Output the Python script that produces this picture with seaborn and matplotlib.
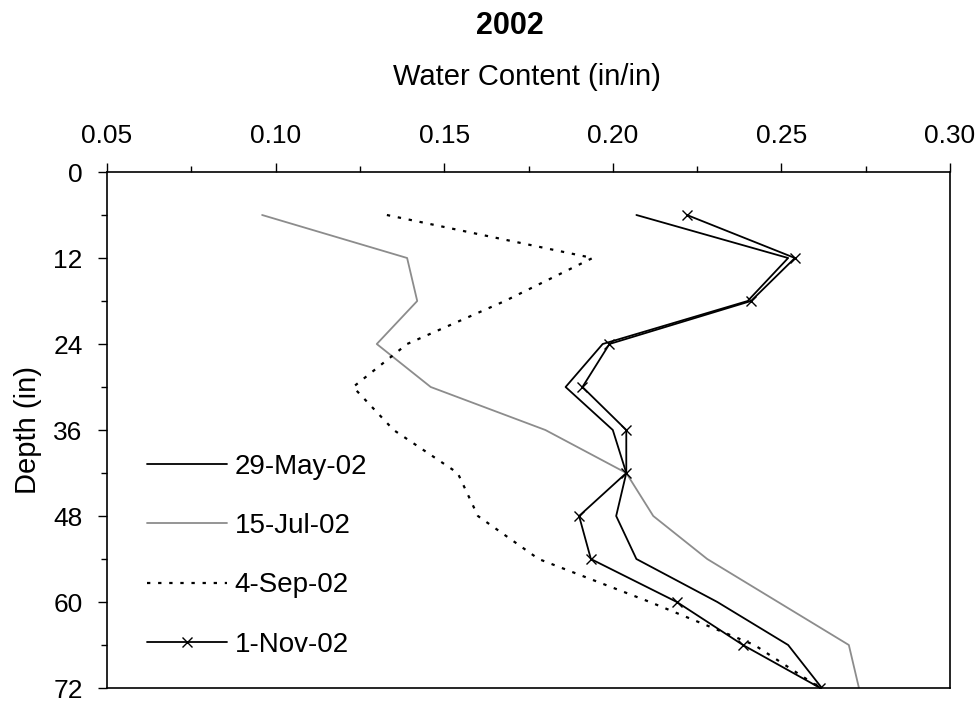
# Soil water content profiles, 2002 - depth vs water content for four dates
import numpy as np
import pandas as pd
import seaborn as sns
import matplotlib.pyplot as plt
from matplotlib.ticker import MultipleLocator

depth = [6, 12, 18, 24, 30, 36, 42, 48, 54, 60, 66, 72]

may_29 = [0.207, 0.252, 0.240, 0.197, 0.186, 0.200, 0.204, 0.201, 0.207, 0.231, 0.252, 0.262]
jul_15 = [0.096, 0.139, 0.142, 0.130, 0.146, 0.180, 0.204, 0.212, 0.228, 0.249, 0.270, 0.273]
sep_4 = [0.133, 0.194, 0.168, 0.139, 0.123, 0.135, 0.154, 0.160, 0.178, 0.211, 0.242, 0.2615]
nov_1 = [0.222, 0.254, 0.241, 0.199, 0.191, 0.204, 0.204, 0.190, 0.1935, 0.219, 0.2386, 0.2615]

labels = ["29-May-02", "15-Jul-02", "4-Sep-02", "1-Nov-02"]
series = [may_29, jul_15, sep_4, nov_1]

x_ticks = [0.05, 0.10, 0.15, 0.20, 0.25, 0.30]
y_ticks = [0, 12, 24, 36, 48, 60, 72]

rows = []
for lab, vals in zip(labels, series):
    for d, v in zip(depth, vals):
        rows.append({"Date": lab, "Depth": d, "Water": v})
df = pd.DataFrame(rows)

sns.set_style("white")
plt.rcParams['font.family'] = ['Liberation Sans', 'DejaVu Sans']
plt.rcParams['text.color'] = 'black'
plt.rcParams['axes.labelcolor'] = 'black'
plt.rcParams['xtick.color'] = 'black'
plt.rcParams['ytick.color'] = 'black'

fig = plt.figure(figsize=(9.8, 7.04), dpi=100)
ax = fig.add_axes([107 / 980, 1 - 688 / 704, (950 - 107) / 980, (688 - 172) / 704])

styles = {
    "29-May-02": dict(color="black", lw=1.3, linestyle="-"),
    "15-Jul-02": dict(color="#8c8c8c", lw=1.3, linestyle="-"),
    "4-Sep-02": dict(color="black", lw=1.6, linestyle=(0, (1.5, 3.5))),
    "1-Nov-02": dict(color="black", lw=1.3, linestyle="-", marker="x",
                     markersize=7, markeredgewidth=1.0, markeredgecolor="black"),
}

for lab in labels:
    sub = df[df["Date"] == lab]
    sns.lineplot(data=sub, x="Water", y="Depth", sort=False, estimator=None,
                 ax=ax, label=lab, **styles[lab])

ax.set_xlim(0.05, 0.30)
ax.set_ylim(72, 0)
ax.set_xticks(x_ticks)
ax.set_xticklabels([f"{t:.2f}" for t in x_ticks])
ax.set_yticks(y_ticks)
ax.xaxis.set_minor_locator(MultipleLocator(0.025))
ax.yaxis.set_minor_locator(MultipleLocator(6))
ax.xaxis.tick_top()
ax.xaxis.set_label_position("top")

ax.tick_params(axis="both", which="major", direction="out", length=6.5, width=1.0,
               color="black", labelsize=19, pad=11)
ax.tick_params(axis="both", which="minor", direction="out", length=4.5, width=1.0,
               color="black")
ax.tick_params(axis="x", which="both", top=True, bottom=False)
ax.tick_params(axis="y", which="both", left=True, right=False)

for sp in ax.spines.values():
    sp.set_color("black")
    sp.set_linewidth(1.2)

ax.set_xlabel("Water Content (in/in)", fontsize=21)
ax.xaxis.set_label_coords(0.498, 1.184)
ax.xaxis.label.set_va("center")
ax.set_ylabel("Depth (in)", fontsize=21)
ax.yaxis.set_label_coords(-0.094, 0.5)
ax.yaxis.label.set_va("center")

fig.text(510 / 980, 1 - 26 / 704, "2002", ha="center", va="center",
         fontsize=22, fontweight="bold")

ax.legend(loc="upper left", bbox_to_anchor=(0.047, 0.454), frameon=False,
          fontsize=20, handlelength=2.88, handletextpad=0.29, labelspacing=1.2,
          borderpad=0, borderaxespad=0)

plt.savefig("out.png", dpi=100)
